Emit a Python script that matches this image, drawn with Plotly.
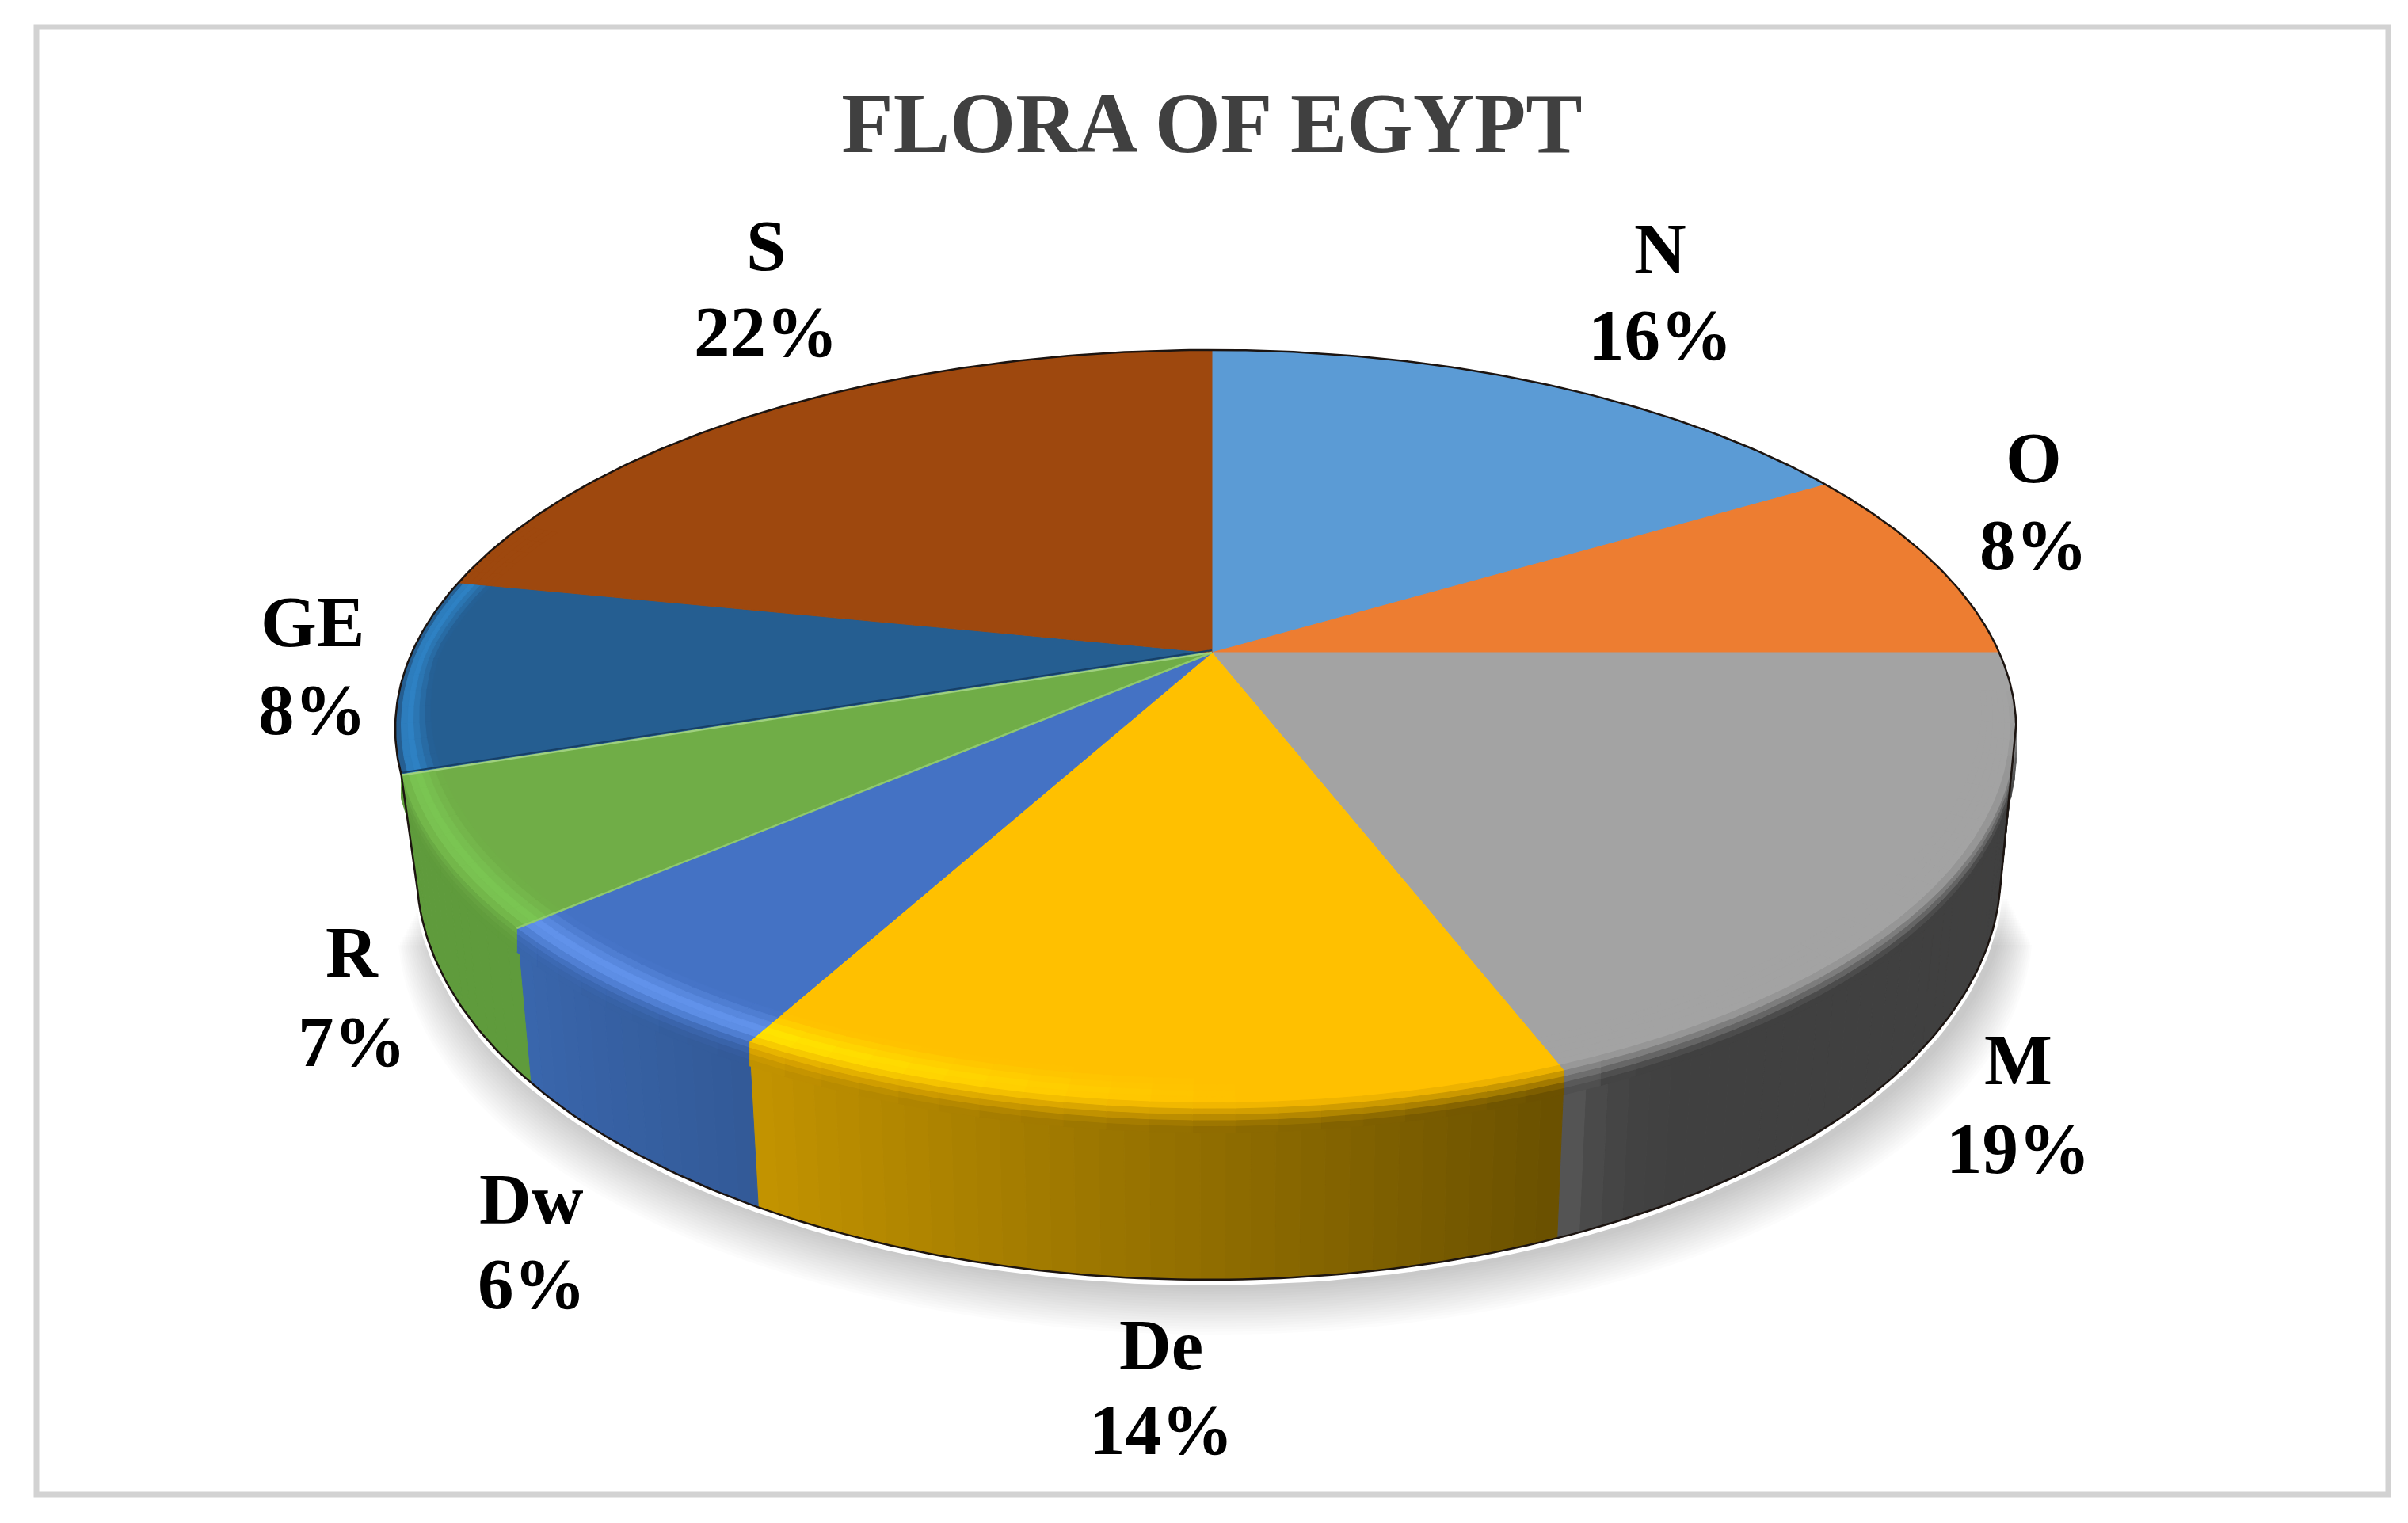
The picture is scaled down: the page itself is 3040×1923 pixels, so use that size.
import math
import numpy as np
import plotly.graph_objects as go

# values, clockwise from 12 o'clock
categories = ["N", "O", "M", "De", "Dw", "R", "GE", "S"]
percent_labels = [16, 8, 19, 14, 6, 7, 8, 22]
# wedge sizes as drawn (slightly finer than the printed labels)
drawn_shares = [16.5, 8.5, 19.1, 13.8, 5.7, 6.3, 8.3, 21.8]

top_colors = ["#5B9BD5", "#ED7D31", "#A3A3A3", "#FFC000", "#4472C4", "#70AD47", "#255E91", "#9E480E"]
# wall colours at the clockwise start and end of each wedge
wall_start = ["#3c6f9e", "#a85a24", "#404040", "#6a5000", "#335a98", "#5f9b3c", "#1d6fb0", "#6f330a"]
wall_end = ["#3c6f9e", "#a85a24", "#5c5c5c", "#c49400", "#3a67ad", "#5f9b3c", "#1d6fb0", "#6f330a"]
glow_colors = [None, None, None, "#FFE800", "#6496EE", "#7CC854", "#2f85c8", None]

W, H = 3040, 1923
CX, CY = 1530, 824   # apex of the pie on the page
R, C, K = 1002, 459.5, 0.2025   # x radius, y radius, perspective strength
BX, BY, BRX, BRY = 1526, 1100, 1000, 516   # ellipse of the bottom edge
RIM_S = 0.6   # position of the rim inside the soft band
RIM_DROP = 30


def rim(theta):
    # perspective projection of the circle, theta clockwise from the top, degrees
    t = np.radians(theta)
    d = 1 + K * np.cos(t)
    return R * np.sin(t) / d - 8 * np.abs(np.sin(t)), -C * np.cos(t) / d


def bottom(theta):
    xp, _ = rim(theta)
    dx = np.clip(CX + xp * 0.98 - BX, -BRX, BRX)
    return BX + dx, BY + BRY * np.sqrt(1 - (dx / BRX) ** 2)


def band(theta, s):
    # s=0 inner edge of the soft rim, s=RIM_S the rim itself, s=1 a little way down the wall
    xp, yp = rim(theta)
    if s <= RIM_S:
        w = (0.035 + 0.045 * abs(math.cos(math.radians(theta)))) * (1 - s / RIM_S)
        return CX + xp * (1 - w), CY + yp * (1 - w)
    return CX + xp, CY + yp + RIM_DROP * (s - RIM_S) / (1 - RIM_S)


def hex_rgb(c):
    return np.array([int(c[i:i + 2], 16) for i in (1, 3, 5)], dtype=float)


def mix(a, b, f):
    v = hex_rgb(a) * (1 - f) + hex_rgb(b) * f
    return "#%02x%02x%02x" % tuple(int(p) for p in v)


def poly(fig, xs, ys, color):
    fig.add_trace(go.Scatter(x=xs, y=ys, mode="lines", fill="toself", fillcolor=color,
                             line=dict(color=color, width=1), hoverinfo="skip", showlegend=False))


fig = go.Figure()

cum = np.concatenate([[0], np.cumsum(drawn_shares)]) * 3.6
left_corner = cum[6]   # where the R wedge meets GE, the wall ends there
right_corner = 101.0   # widest point of the rim on the right

# soft shadow under the pie
outline = np.linspace(right_corner, left_corner, 120)
for i in range(18):
    bx, by = bottom(outline)
    grow = 1 + (18 - i) * 0.0018
    sx = BX + (bx - BX) * grow + 8
    sy = by + (18 - i) * 3.4 + 8
    fig.add_trace(go.Scatter(x=sx, y=sy, mode="lines", fill="toself", fillcolor="rgba(0,0,0,0.012)",
                             line=dict(width=0), hoverinfo="skip", showlegend=False))
bx, by = bottom(outline)
fig.add_trace(go.Scatter(x=bx, y=by + 3, mode="lines", line=dict(color="white", width=8),
                         hoverinfo="skip", showlegend=False))

# side wall, in thin strips so it can carry a gradient
for i in range(len(categories)):
    a0, a1 = max(cum[i], 75), min(cum[i + 1], left_corner)
    if a1 <= a0:
        continue
    n = max(2, math.ceil((a1 - a0) / 1.5))
    edges = np.linspace(a0, a1, n + 1)
    for j in range(n):
        f = (j + 0.5) / n
        if categories[i] == "M":
            f = f ** 30   # grey only lightens right next to the De wedge
        col = mix(wall_start[i], wall_end[i], f)
        xa, ya = rim(edges[j])
        xb, yb = rim(edges[j + 1])
        ba = bottom(edges[j])
        bb = bottom(edges[j + 1])
        poly(fig, [CX + xa, CX + xb, bb[0], ba[0], CX + xa], [CY + ya, CY + yb, bb[1], ba[1], CY + ya], col)

# top face
for i, cat in enumerate(categories):
    arc = np.linspace(cum[i], cum[i + 1], 60)
    xp, yp = rim(arc)
    poly(fig, [CX] + list(CX + xp) + [CX], [CY] + list(CY + yp) + [CY], top_colors[i])

# soft rounded rim where the top meets the wall
stops = np.linspace(0, 1, 11)
for i in range(len(categories)):
    a0, a1 = max(cum[i], 96), min(cum[i + 1], 292)
    if a1 <= a0:
        continue
    n = max(2, math.ceil((a1 - a0) / 2.5))
    edges = np.linspace(a0, a1, n + 1)
    for j in range(n):
        f = (j + 0.5) / n
        if categories[i] == "M":
            f = f ** 30
        wall = mix(wall_start[i], wall_end[i], f)
        mid_angle = (edges[j] + edges[j + 1]) / 2
        # highlight is strongest on the left of the pie and gone past the front
        glow = np.clip((mid_angle - 178) / 30, 0, 1)
        fade_in = np.clip((mid_angle - 96) / 12, 0, 1)
        for s0, s1 in zip(stops[:-1], stops[1:]):
            # past the left corner there is no wall, the rim stops at the edge
            if mid_angle > left_corner and s1 > RIM_S:
                continue
            s = (s0 + s1) / 2
            peak = top_colors[i]
            if glow_colors[i]:
                peak = mix(top_colors[i], glow_colors[i], glow * max(0, 1 - abs(s - 0.38) * 2.8))
            col = peak
            if s > 0.5:
                col = mix(peak, wall, fade_in * min(1, (s - 0.5) / 0.4))
            p = [band(edges[j], s0), band(edges[j + 1], s0), band(edges[j + 1], s1), band(edges[j], s1), band(edges[j], s0)]
            poly(fig, [q[0] for q in p], [q[1] for q in p], col)

# pale edges of the R wedge, with a dark seam on the GE side
for angle, pale in [(cum[5], "#8fc96c"), (cum[6], "#9fd07e")]:
    xp, yp = rim(angle)
    fig.add_trace(go.Scatter(x=[CX, CX + xp], y=[CY, CY + yp], mode="lines", line=dict(color=pale, width=2.5),
                             hoverinfo="skip", showlegend=False))
xp, yp = rim(cum[6])
fig.add_trace(go.Scatter(x=[CX, CX + xp], y=[CY - 3, CY + yp - 3], mode="lines", line=dict(color="#173f66", width=2),
                         hoverinfo="skip", showlegend=False))

# thin dark outline along the silhouette
top_arc = np.linspace(left_corner - 360, right_corner, 300)
xp, yp = rim(top_arc)
low_arc = np.linspace(right_corner, left_corner, 200)
bx, by = bottom(low_arc)
fig.add_trace(go.Scatter(x=list(CX + xp) + list(bx) + [CX + xp[0]], y=list(CY + yp) + list(by) + [CY + yp[0]],
                         mode="lines", line=dict(color="#1c1410", width=2.5),
                         hoverinfo="skip", showlegend=False))

# data labels, placed by hand as in the picture: x, name y, percent y
label_pos = {"N": (2096, 314, 423), "O": (2567, 578, 688), "M": (2548, 1338, 1450), "De": (1466, 1698, 1805),
             "Dw": (671, 1514, 1621), "R": (444, 1202, 1315), "GE": (394, 785, 896), "S": (967, 310, 419)}
for cat, pct in zip(categories, percent_labels):
    x, y_name, y_pct = label_pos[cat]
    for txt, y in [(cat, y_name), ("%d%%" % pct, y_pct)]:
        fig.add_annotation(x=x, y=y, xref="x", yref="y", text=txt, showarrow=False,
                           font=dict(family="Liberation Serif", size=91, color="black", weight="bold"))

fig.add_shape(type="rect", x0=46, x1=3015, y0=34, y1=1887, line=dict(color="#d2d2d2", width=7))

fig.update_layout(
    width=W, height=H, margin=dict(l=0, r=0, t=0, b=0),
    paper_bgcolor="white", plot_bgcolor="white", showlegend=False,
    title=dict(text="<b>FLORA OF EGYPT</b>", x=1530 / W, xanchor="center", y=1 - 155 / H, yanchor="middle",
               font=dict(family="Liberation Serif", size=107, color="#404040")),
    xaxis=dict(range=[0, W], visible=False),
    yaxis=dict(range=[H, 0], visible=False),
)

fig.write_html("out.html", config=dict(displayModeBar=False),
               post_script="document.body.style.margin='0';document.documentElement.style.overflow='hidden';")
